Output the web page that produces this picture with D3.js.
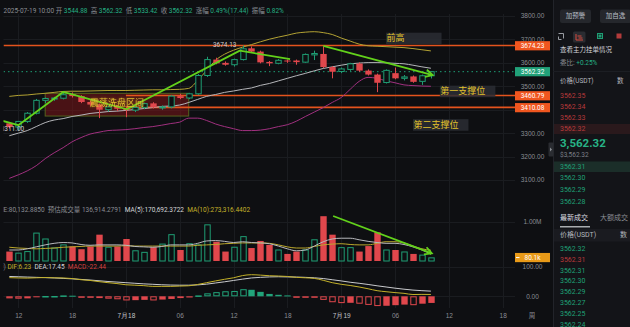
<!DOCTYPE html>
<html><head><meta charset="utf-8">
<script src="https://cdn.jsdelivr.net/npm/d3@7"></script>
<style>
html,body{margin:0;padding:0;background:#0e0f12;overflow:hidden}
svg{display:block;font-family:Roboto,"Noto Sans CJK SC",sans-serif}
</style></head><body>
<svg id="c" width="630" height="327"></svg>
<script>
// ---------- DATA ----------
const times = [
"2025-07-17 11:00","2025-07-17 12:00","2025-07-17 13:00","2025-07-17 14:00","2025-07-17 15:00","2025-07-17 16:00",
"2025-07-17 17:00","2025-07-17 18:00","2025-07-17 19:00","2025-07-17 20:00","2025-07-17 21:00","2025-07-17 22:00",
"2025-07-17 23:00","2025-07-18 00:00","2025-07-18 01:00","2025-07-18 02:00","2025-07-18 03:00","2025-07-18 04:00",
"2025-07-18 05:00","2025-07-18 06:00","2025-07-18 07:00","2025-07-18 08:00","2025-07-18 09:00","2025-07-18 10:00",
"2025-07-18 11:00","2025-07-18 12:00","2025-07-18 13:00","2025-07-18 14:00","2025-07-18 15:00","2025-07-18 16:00",
"2025-07-18 17:00","2025-07-18 18:00","2025-07-18 19:00","2025-07-18 20:00","2025-07-18 21:00","2025-07-18 22:00",
"2025-07-18 23:00","2025-07-19 00:00","2025-07-19 01:00","2025-07-19 02:00","2025-07-19 03:00","2025-07-19 04:00",
"2025-07-19 05:00","2025-07-19 06:00","2025-07-19 07:00","2025-07-19 08:00","2025-07-19 09:00","2025-07-19 10:00"];
const open  = [3342,3326,3350,3385,3440,3447,3449,3466,3458,3433,3422,3400,3412,3404,3398,3410,3427,3410,3412,3458,3450,3468,3546,3614,
               3600,3592,3614,3662,3648,3604,3598,3610,3610,3603,3634,3638,3582,3563,3572,3597,3567,3550,3516,3556,3534,3542,3521,3544.88];
const high  = [3346,3352,3390,3446,3452,3455,3472,3474,3462,3440,3426,3418,3420,3414,3418,3430,3432,3418,3462,3468,3472,3552,3626,3622,
               3606,3618,3674.13,3670,3652,3608,3616,3614,3614,3640,3652,3670,3586,3580,3600,3602,3572,3554,3572,3580,3548,3546,3550,3562.32];
const low   = [3320,3311,3344,3380,3428,3438,3444,3452,3428,3415,3364,3392,3395,3368,3390,3402,3405,3400,3406,3445,3445,3464,3540,3594,
               3588,3584,3610,3644,3598,3586,3594,3600,3592,3600,3612,3578,3534,3556,3566,3562,3546,3475,3512,3530,3525,3515,3506,3533.42];
const close = [3326,3350,3385,3440,3448,3450,3464,3458,3433,3422,3400,3412,3404,3398,3410,3426,3410,3412,3458,3450,3468,3546,3614,3598,
               3592,3614,3660,3648,3602,3598,3611,3606,3603,3636,3640,3582,3562,3574,3596,3567,3550,3515,3568,3534,3540,3519,3545,3562.32];
const volume = [0.24,0.20,0.24,0.71,0.56,0.33,0.41,0.37,0.30,0.37,0.67,0.35,0.37,0.56,0.26,0.22,0.35,0.43,0.67,0.28,0.44,0.41,0.92,0.49,
                0.24,0.35,0.62,0.33,0.51,0.41,0.28,0.18,0.24,0.28,0.54,1.14,0.67,0.34,0.34,0.24,0.38,0.73,0.28,0.28,0.23,0.18,0.15,0.0801];
const volMA5  = [0.28,0.28,0.31,0.36,0.41,0.45,0.47,0.46,0.42,0.40,0.41,0.41,0.41,0.40,0.37,0.36,0.35,0.37,0.41,0.41,0.41,0.45,0.51,0.52,
                 0.50,0.47,0.49,0.47,0.46,0.44,0.38,0.31,0.26,0.28,0.38,0.49,0.56,0.58,0.58,0.54,0.50,0.47,0.45,0.45,0.42,0.36,0.28,0.1707];
const volMA10 = [0.35,0.33,0.32,0.31,0.32,0.33,0.35,0.36,0.37,0.38,0.38,0.38,0.38,0.39,0.38,0.38,0.38,0.38,0.38,0.38,0.38,0.40,0.41,0.42,
                 0.44,0.45,0.46,0.46,0.46,0.45,0.41,0.36,0.33,0.33,0.37,0.41,0.43,0.44,0.42,0.41,0.41,0.45,0.49,0.49,0.46,0.38,0.31,0.2733];
const bollUpper = [3457,3461,3463,3467,3470,3474,3478,3479,3479,3480,3481,3482,3482,3482,3483,3484,3485,3485,3486,3487,3491,3525,3568,3611,
                   3637,3654,3667,3678,3690,3701,3710,3718,3727,3731,3733,3729,3721,3706,3693,3680,3673,3671,3669,3667,3665,3661,3656,3651];
const bollMid   = [3289,3300,3311,3328,3345,3356,3362,3371,3377,3384,3388,3392,3394,3397,3401,3405,3409,3414,3416,3420,3431,3444,3457,3465,
                   3474,3480,3487,3493,3504,3512,3523,3534,3545,3555,3566,3576,3583,3590,3596,3599,3601,3601,3600,3598,3596,3590,3583,3577];
const bollLower = [3107,3122,3139,3161,3191,3216,3238,3263,3281,3296,3304,3311,3313,3315,3319,3324,3328,3334,3341,3347,3364,3364,3354,3339,
                   3328,3319,3311,3311,3313,3319,3328,3336,3351,3371,3390,3409,3431,3452,3487,3521,3538,3534,3523,3515,3506,3503,3501,3500];
const dif  = [63,62,61.5,62.5,63.5,62.5,62,60,56,53.5,49.5,46,43,39,37.5,36,33.5,33.5,33.5,34.5,35.5,40,46,52,
              57.5,62.5,70,73,71.5,69.5,68.5,67,64,62.5,60.5,54,46,40.5,36.5,31.5,25.5,19,15.5,12.5,10,6,6.5,6.23];
const dea  = [67,66,65,64,63,62,60.5,59,57,55,52.5,50,48,46,44,42,40.5,39,38,37.5,37.5,38.5,41,45,
              49,53.5,58,62,64,65.5,66,65.5,65,64,62.5,60,56,52,47.5,44,40,35.5,31.5,27.5,24,21,19,17.45];
const macdHist = [-7,-8,-7,-3,1,1,3,2,-2,-3,-6,-8,-10,-14,-13,-12,-14,-11,-9,-6,-4,3,10,14,
                  17,18,24,22,15,8,5,3,-2,-3,-4,-12,-20,-23,-22,-25,-29,-33,-32,-30,-28,-30,-25,-22.44];
const priceTicks = [3800,3700,3600,3500,3300,3200,3100];
const priceGrid = [3800,3700,3600,3500,3400,3300,3200,3100];
const volTicks = [1];
const macdTicks = [100,0];
const tickTimes = ["2025-07-17 12:00","2025-07-17 18:00","2025-07-18 00:00","2025-07-18 06:00","2025-07-18 12:00",
                   "2025-07-18 18:00","2025-07-19 00:00","2025-07-19 06:00","2025-07-19 12:00","2025-07-19 18:00"];
const tickLabels = ["12","18","7月18","06","12","18","7月19","06","12","18"];
const levelPrices = [3674.23, 3460.79, 3410.08];
const levelStarts = [null, "2025-07-18 00:00", "2025-07-18 00:00"];
const lastPrice = 3562.32;
const trend1 = [["2025-07-17 10:18",3352],["2025-07-17 12:00",3334],["2025-07-17 17:00",3476],["2025-07-17 20:20",3441],
                ["2025-07-18 00:06",3402],["2025-07-18 12:42",3652],["2025-07-18 18:18",3616]];
const trend2 = [["2025-07-18 22:00",3672],["2025-07-19 10:12",3548]];
const volTrend = [["2025-07-18 23:06",1.145],["2025-07-19 10:06",0.196]];
const washBox = {from:"2025-07-17 15:00", to:"2025-07-18 07:00", top:3470, bottom:3373, label:"震荡洗盘区间", labelTime:"2025-07-17 23:00", labelPrice:3428};
const notes = [["前高","2025-07-19 05:00",3704],["第一支撑位","2025-07-19 11:00",3478],["第二支撑位","2025-07-19 08:00",3335]];
const asks = ["3562.35","3562.34","3562.33","3562.32"];
const bids = ["3562.31","3562.30","3562.29","3562.28"];
const trades = [["3562.32","g"],["3562.31","r"],["3562.31","g"],["3562.30","g"],["3562.29","g"],["3562.27","g"],["3562.25","g"],["3562.24","g"]];

// ---------- SETUP ----------
const C = {bg:"#0e0f12", grid:"#1a1c20", up:"#1f9e74", upF:"#21a47a", dn:"#e0474c", txt:"#8a8d93",
           orange:"#e4531d", orangeBox:"#f0561f", lime:"#62d11b", yellow:"#b3a233", mid:"#b5b6ba", purple:"#a0307f"};
const parse = d3.timeParse("%Y-%m-%d %H:%M");
const T = times.map(parse);
const x = d3.scaleTime().domain([T[0], T[T.length-1]]).range([9.3, 430.9]);
const yP = d3.scaleLinear().domain([3100,3800]).range([180,16]);
const yV = d3.scaleLinear().domain([0,1]).range([261,221.7]);
const yM = d3.scaleLinear().domain([0,100]).range([296.3,266.7]);
const FS = 6.5;
const svg = d3.select("#c");
svg.append("rect").attr("width",630).attr("height",327).attr("fill",C.bg);
const defs = svg.append("defs");
defs.append("clipPath").attr("id","plot").append("rect").attr("x",3.5).attr("y",0).attr("width",511.5).attr("height",308);
defs.append("clipPath").attr("id","left").append("rect").attr("x",3).attr("y",0).attr("width",550).attr("height",327);
const glow = defs.append("filter").attr("id","glow").attr("x","-20%").attr("y","-40%").attr("width","140%").attr("height","180%");
glow.append("feGaussianBlur").attr("in","SourceAlpha").attr("stdDeviation",1.4).attr("result","b");
glow.append("feFlood").attr("flood-color","#d7b52a").attr("flood-opacity",0.55);
glow.append("feComposite").attr("in2","b").attr("operator","in").attr("result","g");
const fm = glow.append("feMerge"); fm.append("feMergeNode").attr("in","g"); fm.append("feMergeNode").attr("in","SourceGraphic");

// grid
const grid = svg.append("g").attr("stroke",C.grid).attr("stroke-width",1);
tickTimes.forEach(t=>{ const xx=Math.round(x(parse(t)))+0.5;
  grid.append("line").attr("x1",xx).attr("x2",xx).attr("y1",14).attr("y2",308); });
priceGrid.forEach(p=>{ const yy=Math.round(yP(p))+0.5;
  grid.append("line").attr("x1",3.5).attr("x2",515).attr("y1",yy).attr("y2",yy); });
volTicks.forEach(v=>{ const yy=Math.round(yV(v))+0.5;
  grid.append("line").attr("x1",3.5).attr("x2",515).attr("y1",yy).attr("y2",yy); });
macdTicks.forEach(v=>{ const yy=Math.round(yM(v))+0.5;
  grid.append("line").attr("x1",3.5).attr("x2",515).attr("y1",yy).attr("y2",yy); });

const plot = svg.append("g").attr("clip-path","url(#plot)");

// wash box
const bx0=x(parse(washBox.from)), bx1=x(parse(washBox.to));
plot.append("rect").attr("x",bx0).attr("y",yP(washBox.top)).attr("width",bx1-bx0).attr("height",yP(washBox.bottom)-yP(washBox.top))
  .attr("fill","#7a1518").attr("fill-opacity",0.55).attr("stroke","#56631e").attr("stroke-width",1);

// level lines
levelPrices.forEach((p,i)=>{
  const x0 = levelStarts[i] ? x(parse(levelStarts[i])) : 3.5;
  plot.append("line").attr("x1",x0).attr("x2",515).attr("y1",yP(p)).attr("y2",yP(p))
    .attr("stroke",C.orange).attr("stroke-width",1.6);
});
// last price dotted
plot.append("line").attr("x1",3.5).attr("x2",515).attr("y1",yP(lastPrice)).attr("y2",yP(lastPrice))
  .attr("stroke","#1f9e74").attr("stroke-width",1).attr("stroke-dasharray","1.5,3");

// bollinger
const line = (arr, ys) => d3.line().x((d,i)=>x(T[i])).y(d=>ys(d)).curve(d3.curveMonotoneX)(arr);
plot.append("path").attr("d",line(bollUpper,yP)).attr("fill","none").attr("stroke",C.yellow).attr("stroke-width",1);
plot.append("path").attr("d",line(bollMid,yP)).attr("fill","none").attr("stroke",C.mid).attr("stroke-width",1);
plot.append("path").attr("d",line(bollLower,yP)).attr("fill","none").attr("stroke",C.purple).attr("stroke-width",1);

// candles
const bw = 6.4;
T.forEach((t,i)=>{
  const cx = Math.round(x(t))+0.5, up = close[i]>=open[i];
  const col = up? C.up : C.dn;
  const yt = yP(Math.max(open[i],close[i])), yb = yP(Math.min(open[i],close[i]));
  const g = plot.append("g");
  if(up){
    g.append("line").attr("x1",cx).attr("x2",cx).attr("y1",yP(high[i])).attr("y2",yt).attr("stroke",col);
    g.append("line").attr("x1",cx).attr("x2",cx).attr("y1",yb).attr("y2",yP(low[i])).attr("stroke",col);
    g.append("rect").attr("x",cx-bw/2+0.5).attr("y",yt).attr("width",bw-1).attr("height",Math.max(1,yb-yt))
      .attr("fill",C.bg).attr("stroke",col).attr("stroke-width",1);
  } else {
    g.append("line").attr("x1",cx).attr("x2",cx).attr("y1",yP(high[i])).attr("y2",yP(low[i])).attr("stroke",col);
    g.append("rect").attr("x",cx-bw/2).attr("y",yt).attr("width",bw).attr("height",Math.max(1,yb-yt)).attr("fill",col);
  }
});

// extremes
const iHi = d3.maxIndex(high), iLo = d3.minIndex(low);
plot.append("text").attr("x",x(T[iHi])-6).attr("y",yP(high[iHi])).attr("text-anchor","end").attr("dominant-baseline","middle")
  .attr("font-size",FS).attr("fill","#c9cbcf").text(d3.format(".2f")(high[iHi]));
plot.append("text").attr("x",x(T[iLo])+6).attr("y",yP(low[iLo])-1).attr("text-anchor","end").attr("dominant-baseline","middle")
  .attr("font-size",FS).attr("fill","#c9cbcf").text(d3.format(".2f")(low[iLo]));

// trend lines
const tline = (pts, ys) => d3.line().x(d=>x(parse(d[0]))).y(d=>ys(d[1]))(pts);
plot.append("path").attr("d",tline(trend1,yP)).attr("fill","none").attr("stroke",C.lime).attr("stroke-width",1.8).attr("stroke-linejoin","round");
function arrow(pts, ys){
  plot.append("path").attr("d",tline(pts,ys)).attr("fill","none").attr("stroke",C.lime).attr("stroke-width",1.8);
  const a = pts[pts.length-2], b = pts[pts.length-1];
  const ax=x(parse(a[0])), ay=ys(a[1]), bxp=x(parse(b[0])), byp=ys(b[1]);
  const ang = Math.atan2(byp-ay,bxp-ax), L=8, s=0.5;
  const p1=[bxp-L*Math.cos(ang-s), byp-L*Math.sin(ang-s)], p2=[bxp-L*Math.cos(ang+s), byp-L*Math.sin(ang+s)];
  plot.append("path").attr("d",`M${p1}L${bxp},${byp}L${p2}`).attr("fill","none").attr("stroke",C.lime).attr("stroke-width",1.8);
}
arrow(trend2,yP);

// wash box label
plot.append("text").attr("x",x(parse(washBox.labelTime))).attr("y",yP(washBox.labelPrice)).attr("text-anchor","middle")
  .attr("dominant-baseline","middle").attr("font-size",9).attr("fill","#e2c22c").attr("filter","url(#glow)").text(washBox.label);

// notes
notes.forEach(n=>{
  const nx = x(parse(n[1])), ny = yP(n[2]);
  plot.append("rect").attr("x",nx).attr("y",ny-5.8).attr("width",55.5).attr("height",11.6).attr("fill","#2a2d34").attr("fill-opacity",0.85);
  plot.append("text").attr("x",nx+0.5).attr("y",ny+0.5).attr("dominant-baseline","middle").attr("font-size",9).attr("fill","#e2c22c").text(n[0]);
});

// volume
T.forEach((t,i)=>{
  const cx = Math.round(x(t))+0.5, up = close[i]>=open[i];
  if(up) plot.append("rect").attr("x",cx-bw/2+0.5).attr("y",yV(volume[i])).attr("width",bw-1).attr("height",Math.max(1,yV(0)-yV(volume[i])))
      .attr("fill","none").attr("stroke",C.up);
  else plot.append("rect").attr("x",cx-bw/2).attr("y",yV(volume[i])).attr("width",bw).attr("height",yV(0)-yV(volume[i])).attr("fill",C.dn);
});
plot.append("path").attr("d",line(volMA10,yV)).attr("fill","none").attr("stroke","#bba82c").attr("stroke-width",1);
plot.append("path").attr("d",line(volMA5,yV)).attr("fill","none").attr("stroke","#b9babe").attr("stroke-width",1);
arrow(volTrend,yV);

// macd
T.forEach((t,i)=>{
  const v = macdHist[i], prev = i? macdHist[i-1] : v, cx = Math.round(x(t))+0.5;
  const hollow = v>=0 ? v>=prev : v<=prev;
  const col = v>=0? C.upF : C.dn;
  const y0 = yM(Math.max(v,0)), h = Math.max(1,Math.abs(yM(v)-yM(0)));
  if(hollow) plot.append("rect").attr("x",cx-bw/2+0.5).attr("y",y0+0.5).attr("width",bw-1).attr("height",Math.max(0.5,h-1)).attr("fill","none").attr("stroke",col);
  else plot.append("rect").attr("x",cx-bw/2).attr("y",y0).attr("width",bw).attr("height",h).attr("fill",col);
});
plot.append("path").attr("d",line(dea,yM)).attr("fill","none").attr("stroke","#c9cacd").attr("stroke-width",1);
plot.append("path").attr("d",line(dif,yM)).attr("fill","none").attr("stroke","#c3b12a").attr("stroke-width",1);

// ---------- AXES ----------
const axP = svg.append("g").attr("transform","translate(532.5,0)").call(d3.axisRight(yP).tickValues(priceTicks).tickSize(0).tickFormat(d3.format(".2f")));
const axV = svg.append("g").attr("transform","translate(532.5,0)").call(d3.axisRight(yV).tickValues(volTicks).tickSize(0).tickFormat(d=>d3.format(".2f")(d)+"M"));
const axM = svg.append("g").attr("transform","translate(532.5,0)").call(d3.axisRight(yM).tickValues(macdTicks).tickSize(0).tickFormat(d3.format(".2f")));
[axP,axV,axM].forEach(a=>{a.select(".domain").remove();
  a.selectAll("text").attr("x",0).attr("dy","0.3em").attr("text-anchor","middle").attr("font-size",FS).attr("fill",C.txt).attr("font-family",null);});
const axT = svg.append("g").attr("transform","translate(0,313)").call(d3.axisBottom(x).tickValues(tickTimes.map(parse)).tickSize(0).tickFormat((d,i)=>tickLabels[i]));
axT.select(".domain").remove();
axT.selectAll("text").attr("y",3.7).attr("dy","0").attr("dominant-baseline","middle").attr("font-size",FS).attr("font-family",null)
  .attr("fill",(d,i)=>tickLabels[i].includes("月")?"#c2c4c8":C.txt);
svg.append("text").attr("x",532).attr("y",316.7).attr("dominant-baseline","middle").attr("text-anchor","middle").attr("font-size",FS).attr("fill",C.txt).text("周");

// price labels on axis
function axisTag(yy, txt, fill){
  svg.append("rect").attr("x",515).attr("y",yy-4.6).attr("width",35).attr("height",9.2).attr("fill",fill);
  svg.append("text").attr("x",532.5).attr("y",yy+0.3).attr("text-anchor","middle").attr("dominant-baseline","middle").attr("font-size",FS).attr("fill","#fff").text(txt);
}
levelPrices.forEach(p=>axisTag(yP(p)+0.3, d3.format(".2f")(p), C.orangeBox));
axisTag(yP(lastPrice), d3.format(".2f")(lastPrice), "#21a179");
axisTag(yV(volume[volume.length-1])-0.3, d3.format(".1f")(volume[volume.length-1]*1000)+"k", "#e99a18");
svg.append("line").attr("x1",516).attr("x2",519.5).attr("y1",yV(volume[volume.length-1])-0.3).attr("y2",yV(volume[volume.length-1])-0.3).attr("stroke","#fff");

// ---------- HEADERS ----------
const hdr = svg.append("text").attr("x",3.5).attr("y",10.7).attr("dominant-baseline","middle").attr("font-size",FS).attr("fill",C.txt);
const G = "#25b084";
[["2025-07-19 10:00 ",C.txt],["开 ",C.txt],[d3.format(".2f")(open[47])+"  ",G],["高 ",C.txt],[d3.format(".2f")(high[47])+"  ",G],
 ["低 ",C.txt],[d3.format(".2f")(low[47])+"  ",G],["收 ",C.txt],[d3.format(".2f")(close[47])+"  ",G],["涨幅 ",C.txt],["0.49%(17.44)  ",G],
 ["振幅 ",C.txt],["0.82%",G]].forEach(s=>hdr.append("tspan").attr("fill",s[1]).attr("xml:space","preserve").text(s[0]));
hdr.attr("xml:space","preserve");

const leftG = svg.append("g").attr("clip-path","url(#left)");
function clippedHeader(prefixHidden, parts, yy){
  const tmp = leftG.append("text").attr("font-size",FS).text(prefixHidden);
  const w = tmp.node().getComputedTextLength(); tmp.remove();
  const t = leftG.append("text").attr("x",3.5-w).attr("y",yy).attr("dominant-baseline","middle").attr("font-size",FS).attr("xml:space","preserve");
  parts.forEach(s=>t.append("tspan").attr("fill",s[1]).text(s[0]));
}
clippedHeader("VOLUM", [["VOLUME:80,132.8850  ",C.txt],["预估成交量 136,914.2791  ",C.txt],["MA(5):170,692.3722  ","#d4d5d8"],["MA(10):273,316.4402","#c4b22a"]], 209.5);
clippedHeader("MACD(12,26,9", [["MACD(12,26,9) ",C.txt],["DIF:6.23  ","#c4b22a"],["DEA:17.45  ","#d4d5d8"],["MACD:-22.44","#d8403f"]], 266.5);

// ---------- RIGHT PANEL ----------
const R = svg.append("g");
R.append("rect").attr("x",553).attr("y",0).attr("width",77).attr("height",327).attr("fill","#131418");
R.append("line").attr("x1",553.5).attr("x2",553.5).attr("y1",0).attr("y2",327).attr("stroke","#22242a");
const rt = (tx,xx,yy,fill,fs=FS,extra={})=>{const e=R.append("text").attr("x",xx).attr("y",yy).attr("dominant-baseline","middle").attr("font-size",fs).attr("fill",fill).text(tx);
  Object.entries(extra).forEach(([k,v])=>e.attr(k,v)); return e;};
[["加预警",560],["加自选",600]].forEach(b=>{
  R.append("rect").attr("x",b[1]).attr("y",9.5).attr("width",31).attr("height",13.5).attr("rx",2).attr("fill","#25272c");
  rt(b[0],b[1]+15.5,16.5,"#b9bdc5",FS,{"text-anchor":"middle"});
});
// icon row
R.append("rect").attr("x",573).attr("y",31.5).attr("width",12.5).attr("height",11).attr("rx",1.5).attr("fill","#2a2c31");
R.append("path").attr("d","M558.5,33.5h5v5M561.5,39.5h-3v-3").attr("fill","none").attr("stroke","#a8abb2").attr("stroke-width",0.9);
R.append("path").attr("d","M576,34v6h7M577.5,36h4M578.5,38h4").attr("fill","none").attr("stroke","#d84a3f").attr("stroke-width",1);
R.append("rect").attr("x",597.5).attr("y",33.5).attr("width",5).attr("height",5).attr("fill","none").attr("stroke","#1f9e74");
R.append("rect").attr("x",598.5).attr("y",34.5).attr("width",3).attr("height",3).attr("fill","#1f9e74");
R.append("rect").attr("x",616.5).attr("y",33.5).attr("width",5).attr("height",5).attr("fill","#b33b3b");
rt("查看主力挂单情况",560,50.7,"#d3d5da");
const wb = rt("",560,63.3,C.txt); wb.append("tspan").text("委比: "); wb.append("tspan").attr("fill",G).text("+0.25%");
R.append("line").attr("x1",553).attr("x2",630).attr("y1",71.5).attr("y2",71.5).attr("stroke","#1c1e23");
rt("价格(USDT)",560,81.7,"#b3b6bc"); rt("数",617,81.7,"#b3b6bc");
R.append("rect").attr("x",554).attr("y",124).attr("width",76).attr("height",10).attr("fill","#2a191c");
asks.forEach((a,i)=>rt(a,560,96.3+i*10.9,"#b9393b",7));
rt(d3.format(",.2f")(lastPrice),560,144,"#27b386",11.5,{"font-weight":"bold"});
rt("$"+d3.format(",.2f")(lastPrice),560,155,"#7c7f87");
R.append("rect").attr("x",554).attr("y",161.5).attr("width",76).attr("height",10.5).attr("fill","#1b2e29");
bids.forEach((b,i)=>rt(b,560,166.7+i*11.7,"#1fa077",7));
rt("最新成交",560,217.7,"#dadce0",7); rt("大额成交",600,217.7,C.txt,7);
R.append("line").attr("x1",560).attr("x2",590).attr("y1",226.8).attr("y2",226.8).attr("stroke","#d0d2d6").attr("stroke-width",1.2);
R.append("rect").attr("x",554).attr("y",229).attr("width",76).attr("height",12.5).attr("fill","#1a1b20");
rt("价格(USDT)",560,235,"#b3b6bc",7); rt("数",620,235,"#b3b6bc",7);
trades.forEach((t,i)=>rt(t[0],560,249+i*10.85,t[1]==="g"?"#1fa077":"#b9393b",7));
// handle
R.append("rect").attr("x",548.5).attr("y",142.5).attr("width",5).attr("height",14).attr("rx",1).attr("fill","#2a2c31");
R.append("path").attr("d","M550,147.5l2,2l-2,2z").attr("fill","#8a8d93");
</script>
</body></html>
